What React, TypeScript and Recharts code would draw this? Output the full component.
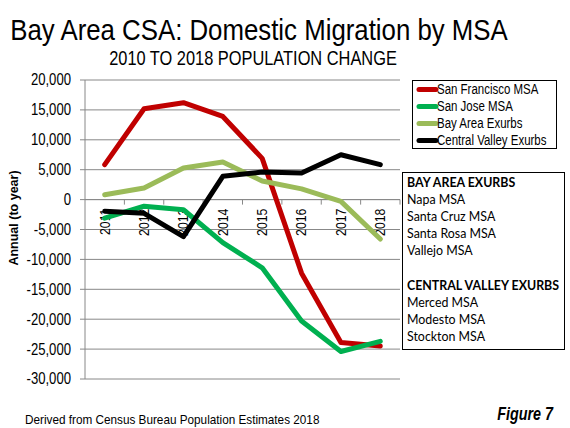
import React from 'react';
import { LineChart, Line, XAxis, YAxis, CartesianGrid, ReferenceLine } from 'recharts';

const years = ['2011', '2012', '2013', '2014', '2015', '2016', '2017', '2018'];
const sanFrancisco = [5850, 15200, 16200, 13900, 6900, -12300, -23900, -24500];
const sanJose = [-3100, -1100, -1700, -7200, -11400, -20300, -25400, -23700];
const bayAreaExurbs = [800, 1950, 5300, 6300, 3100, 1800, -300, -6600];
const centralValleyExurbs = [-1950, -2300, -6200, 3900, 4600, 4450, 7500, 5850];
const yTicks = [-30000, -25000, -20000, -15000, -10000, -5000, 0, 5000, 10000, 15000, 20000];

const series = [
  { key: 'sf', name: 'San Francisco MSA', color: '#C00000', values: sanFrancisco },
  { key: 'sj', name: 'San Jose MSA', color: '#00B050', values: sanJose },
  { key: 'bay', name: 'Bay Area Exurbs', color: '#9BBB59', values: bayAreaExurbs },
  { key: 'cv', name: 'Central Valley Exurbs', color: '#000000', values: centralValleyExurbs },
];

const boxLines = [
  { text: 'BAY AREA EXURBS', bold: true },
  { text: 'Napa MSA' },
  { text: 'Santa Cruz MSA' },
  { text: 'Santa Rosa MSA' },
  { text: 'Vallejo MSA' },
  { text: '' },
  { text: 'CENTRAL VALLEY EXURBS', bold: true },
  { text: 'Merced MSA' },
  { text: 'Modesto MSA' },
  { text: 'Stockton MSA' },
];

const data = years.map((year, i) => {
  const row: Record<string, string | number> = { year };
  series.forEach((s) => {
    row[s.key] = s.values[i];
  });
  return row;
});

const ARIAL = '"Liberation Sans", Arial, sans-serif';
const CALIBRI = 'Lato, "Open Sans", sans-serif';

const fmt = (v: number) => v.toLocaleString('en-US');

type NTProps = {
  x: number;
  y: number;
  size: number;
  scale?: number;
  anchor?: 'start' | 'middle' | 'end';
  rotate?: number;
  bold?: boolean;
  italic?: boolean;
  baseline?: string;
  children: React.ReactNode;
};

const NarrowText = ({ x, y, size, scale = 0.82, anchor = 'start', rotate = 0, bold, italic, baseline, children }: NTProps) => (
  <g transform={`translate(${x} ${y}) rotate(${rotate}) scale(${scale} 1)`}>
    <text
      x={0}
      y={0}
      textAnchor={anchor}
      dominantBaseline={baseline}
      fontFamily={ARIAL}
      fontSize={size}
      fontWeight={bold ? 'bold' : 'normal'}
      fontStyle={italic ? 'italic' : 'normal'}
      fill="#000"
    >
      {children}
    </text>
  </g>
);

const YTick = (props: any) => {
  const { x, y, payload } = props;
  return (
    <NarrowText x={x} y={y} size={16} anchor="end" baseline="central">
      {fmt(payload.value)}
    </NarrowText>
  );
};

const ZeroAxisLabels = (props: any) => {
  const vb = props.viewBox || {};
  const x0 = vb.x ?? 0;
  const y0 = vb.y ?? 0;
  const w = vb.width ?? 0;
  const n = years.length;
  const band = w / n;
  return (
    <g>
      {Array.from({ length: n }, (_, i) => i + 1).map((i) => (
        <line key={'t' + i} x1={x0 + i * band} x2={x0 + i * band} y1={y0} y2={y0 + 5} stroke="#888" strokeWidth={1} />
      ))}
      {years.map((yr, i) => (
        <NarrowText key={yr} x={x0 + (i + 0.5) * band} y={y0 + 9} size={15} anchor="end" rotate={-90} baseline="central">
          {yr}
        </NarrowText>
      ))}
    </g>
  );
};

export default function App() {
  return (
    <div style={{ position: 'absolute', left: 0, top: 0, width: 570, height: 428, background: '#fff' }}>
      <LineChart
        width={570}
        height={428}
        data={data}
        margin={{ top: 80, right: 170, bottom: 49, left: 25 }}
      >
        <CartesianGrid vertical={false} stroke="#888" strokeWidth={1} />
        <XAxis dataKey="year" hide padding={{ left: 19.7, right: 19.7 }} />
        <YAxis
          width={60}
          domain={[-30000, 20000]}
          ticks={yTicks}
          interval={0}
          axisLine={{ stroke: '#888' }}
          tickLine={{ stroke: '#888' }}
          tickSize={5}
          tickMargin={9}
          tick={<YTick />}
        />
        <ReferenceLine y={0} stroke="#888" strokeWidth={1} label={(p: any) => <ZeroAxisLabels {...p} />} />
        {series.map((s) => (
          <Line
            key={s.key}
            type="linear"
            dataKey={s.key}
            name={s.name}
            stroke={s.color}
            strokeWidth={5}
            strokeLinecap="round"
            strokeLinejoin="round"
            dot={false}
            activeDot={false}
            isAnimationActive={false}
          />
        ))}
      </LineChart>
      <svg
        width={570}
        height={428}
        style={{ position: 'absolute', left: 0, top: 0, pointerEvents: 'none' }}
      >
        <NarrowText x={259} y={40} size={29} scale={0.89} anchor="middle">
          Bay Area CSA: Domestic Migration by MSA
        </NarrowText>
        <NarrowText x={253} y={65} size={20} anchor="middle">
          2010 TO 2018 POPULATION CHANGE
        </NarrowText>
        <text
          x={14}
          y={218}
          transform="rotate(-90 14 218)"
          textAnchor="middle"
          dominantBaseline="central"
          fontFamily={ARIAL}
          fontWeight="bold"
          fontSize={12.5}
          fill="#000"
        >
          Annual (to year)
        </text>
        <NarrowText x={25} y={424} size={12.5} scale={0.94}>
          Derived from Census Bureau Population Estimates 2018
        </NarrowText>
        <NarrowText x={553} y={420} size={17.5} anchor="end" bold italic>
          Figure 7
        </NarrowText>
        {/* legend */}
        <rect x={412.5} y={80.5} width={144} height={68} fill="#fff" stroke="#000" strokeWidth={1} />
        {series.map((s, i) => {
          const cy = 89.5 + i * 17;
          return (
            <g key={s.key}>
              <line x1={419} x2={436} y1={cy} y2={cy} stroke={s.color} strokeWidth={5} strokeLinecap="round" />
              <NarrowText x={437} y={cy} size={14} baseline="central">
                {s.name}
              </NarrowText>
            </g>
          );
        })}
        {/* MSA box */}
        <rect x={402.5} y={172.5} width={162} height={177} fill="#fff" stroke="#000" strokeWidth={1} />
        {boxLines.map((l, i) => (
          <text
            key={i}
            x={407}
            y={187 + i * 17.1}
            fontFamily={CALIBRI}
            fontWeight={l.bold ? 'bold' : 'normal'}
            fontSize={12.4}
            fill="#000"
          >
            {l.text}
          </text>
        ))}
      </svg>
    </div>
  );
}
